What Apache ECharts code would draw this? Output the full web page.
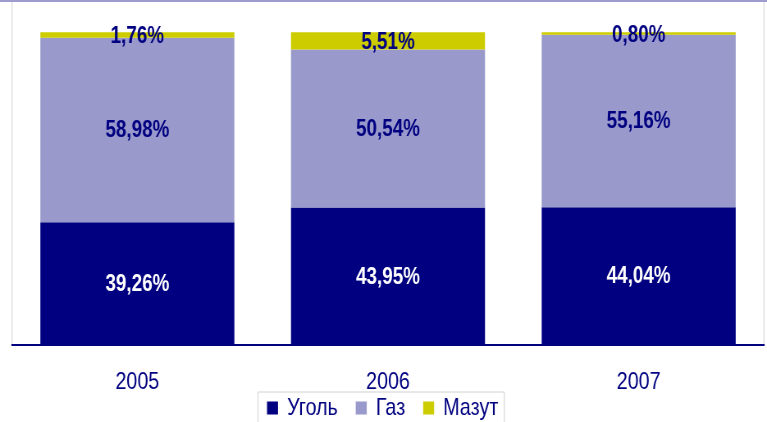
<!DOCTYPE html>
<html>
<head>
<meta charset="utf-8">
<script src="https://cdn.jsdelivr.net/npm/echarts@6/dist/echarts.min.js"></script>
<style>
  html, body { margin: 0; padding: 0; background: #ffffff; overflow: hidden; }
  /* chart is laid out wide, then condensed horizontally so the text reads as a narrow face */
  #chart { width: 935px; height: 422px; transform: scaleX(0.8203); transform-origin: 0 0; }
</style>
</head>
<body>
<div id="chart"></div>
<script>
// Fuel mix by year, percent of total
const years = ['2005', '2006', '2007'];
const coal = [39.26, 43.95, 44.04];
const gas = [58.98, 50.54, 55.16];
const fuelOil = [1.76, 5.51, 0.80];
const seriesNames = ['Уголь', 'Газ', 'Мазут'];

const SX = 0.8203;          // horizontal condensing factor
const px = v => v / SX;     // on-screen x distance -> layout distance
const navy = '#000080';
const font = 'Arial, "Liberation Sans", sans-serif';
const fmt = p => p.value.toFixed(2).replace('.', ',') + '%';

const chart = echarts.init(document.getElementById('chart'));

function bar(name, data, color, labelColor, dy) {
  return {
    name: name,
    type: 'bar',
    stack: 'total',
    data: data,
    barCategoryGap: '22.6%',
    itemStyle: { color: color },
    label: {
      show: true, position: 'inside', offset: [0, dy],
      color: labelColor, formatter: fmt,
      fontFamily: font, fontSize: 23, fontWeight: 'bold'
    }
  };
}

chart.setOption({
  animation: false,
  backgroundColor: '#ffffff',
  graphic: [{
    type: 'rect',
    left: 0, top: 0,
    shape: { width: 935, height: 2 },
    style: { fill: '#9c9ccf' },
    z: 100
  }],
  grid: {
    left: px(12), right: px(3), top: 1, bottom: 77,
    show: true, borderColor: '#d4d4d4', borderWidth: 1, backgroundColor: '#ffffff'
  },
  legend: {
    data: seriesNames,
    left: px(258), top: 392,
    icon: 'rect',
    itemWidth: px(11), itemHeight: 13,
    itemGap: px(18),
    padding: [4, px(6), 10, px(9)],
    borderColor: '#d0d0d0', borderWidth: 1,
    textStyle: { color: navy, fontSize: 24, fontFamily: font, padding: [0, 0, 0, px(5)] }
  },
  xAxis: {
    type: 'category',
    data: years,
    axisLine: { show: true, lineStyle: { color: navy, width: 2 } },
    axisTick: { show: false },
    axisLabel: { color: navy, fontSize: 24, margin: 25, fontFamily: font }
  },
  yAxis: {
    type: 'value', min: 0, max: 110, show: false,
    splitLine: { show: false }
  },
  series: [
    bar(seriesNames[0], coal, '#000080', '#ffffff', 1),
    bar(seriesNames[1], gas, '#9999cc', navy, 1),
    bar(seriesNames[2], fuelOil, '#cccc00', navy, 2)
  ]
});
</script>
</body>
</html>
